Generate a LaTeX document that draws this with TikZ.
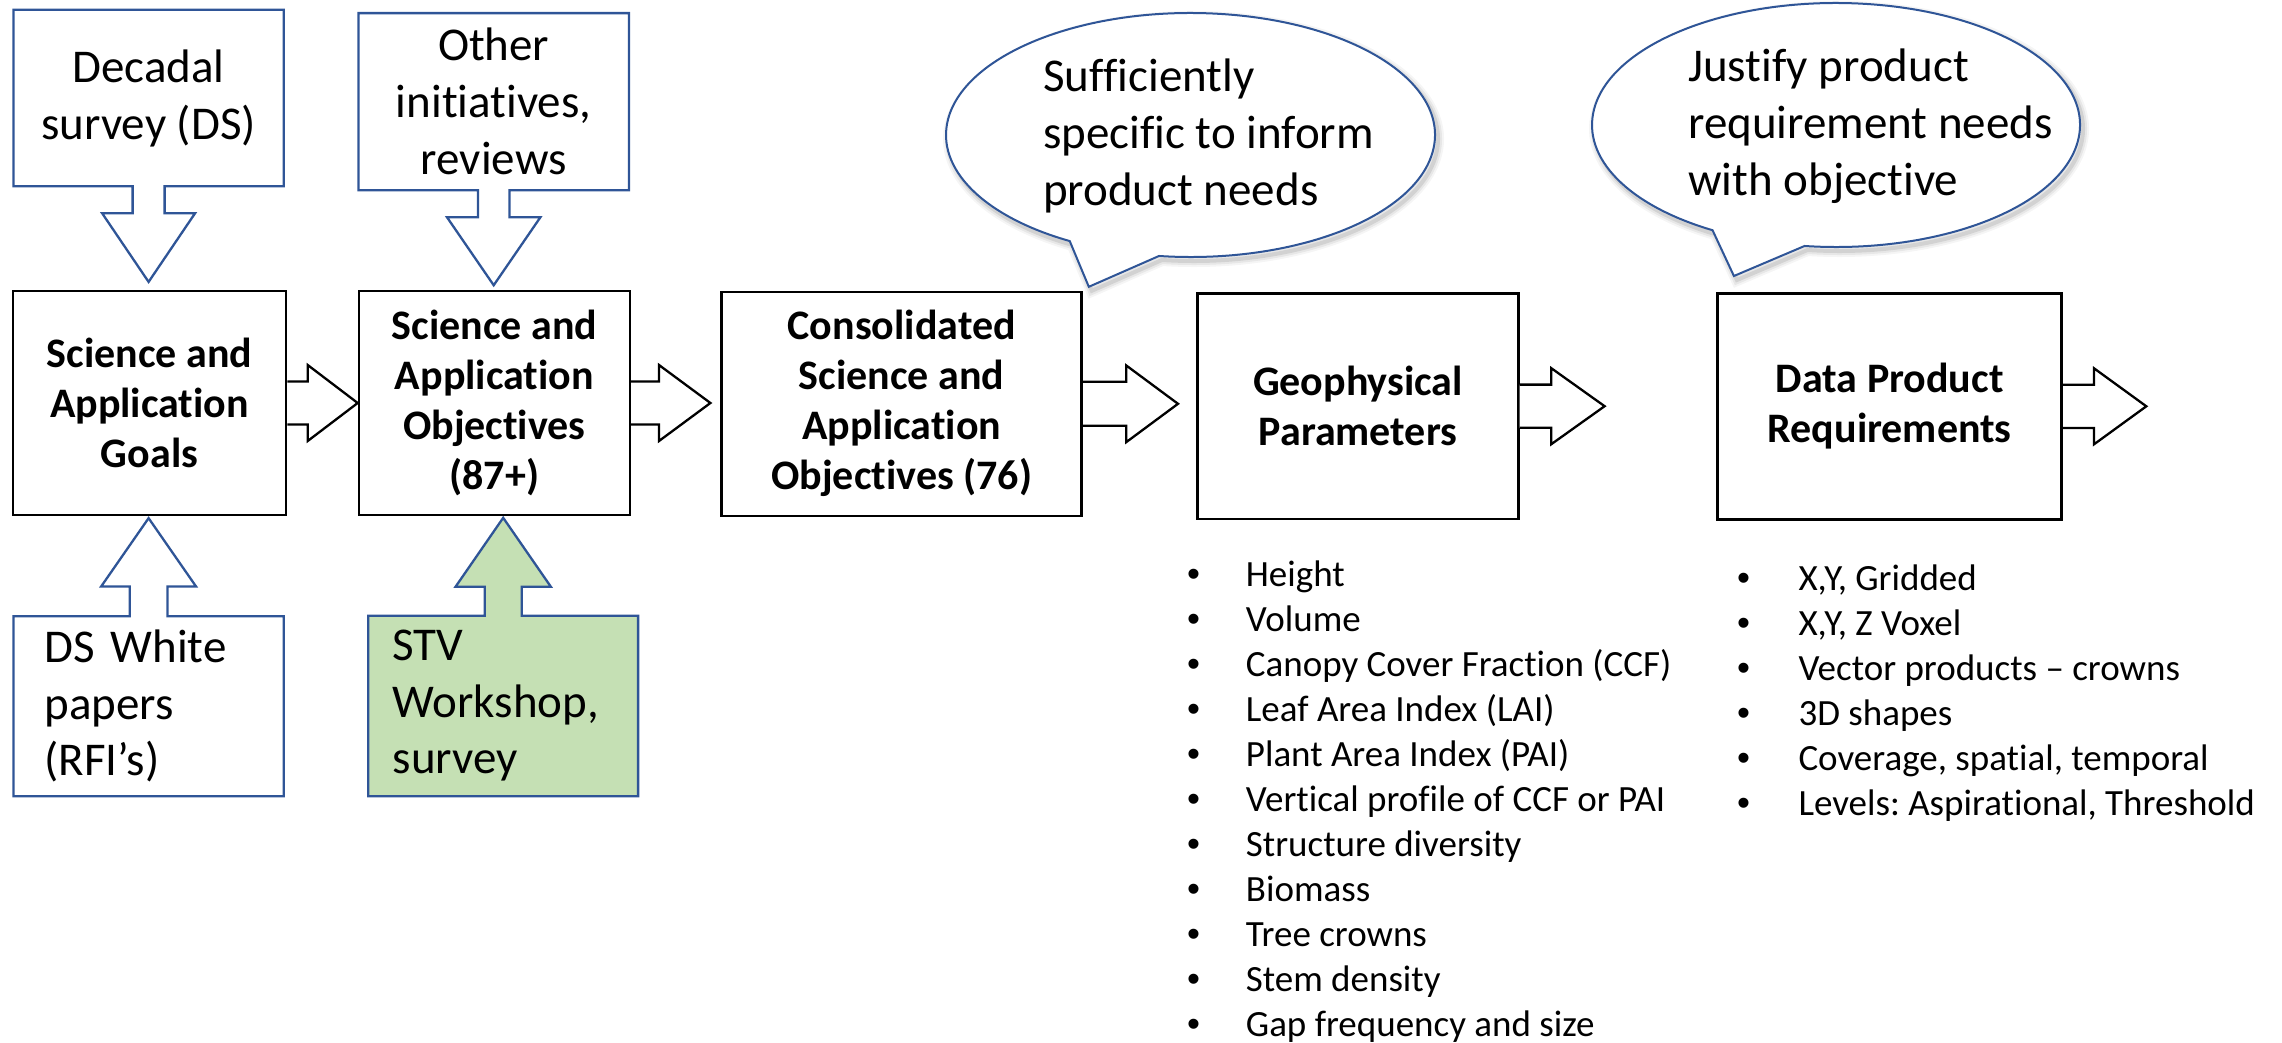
\documentclass[tikz,border=0pt]{standalone}
\usepackage{fontspec}
\setmainfont{Carlito}[Ligatures={NoCommon,NoRare}]
\newfontfamily\arialf{Liberation Sans}
\usetikzlibrary{calc,backgrounds}
\definecolor{pblue}{RGB}{47,85,151}
\definecolor{pgreen}{RGB}{197,224,180}
\newcommand\geobul{\makebox[58.9pt][l]{\arialf •}}
\newcommand\dpbul{\makebox[61.5pt][l]{\arialf •}}
\newcommand\bubblepathA{(1190.5,-135) ++(262.6:244.5pt and 122pt) arc[start angle=262.6, end angle=600.4, x radius=244.5pt, y radius=122pt] -- (1088.8,-286.8) -- cycle}
\newcommand\bubblepathB{(1836,-125) ++(262.6:244pt and 122pt) arc[start angle=262.6, end angle=599.6, x radius=244pt, y radius=122pt] -- (1733.9,-276) -- cycle}
\frenchspacing
\begin{document}
\begin{tikzpicture}[x=1pt,y=1pt,
  box/.style={draw=black, line width=2.6pt, inner sep=0pt, align=center, font=\fontsize{42}{50}\selectfont\bfseries},
  blockarrow/.style={draw=black, line width=2.3pt, line join=miter, fill=white},
  callout/.style={draw=pblue, line width=2.3pt, line join=miter},
  ctext/.style={inner sep=0pt, align=center, font=\fontsize{47}{57}\selectfont},
  ltext/.style={inner sep=0pt, align=left, font=\fontsize{47}{56.5}\selectfont},
  bubble/.style={draw=pblue, line width=2pt, fill=white, line join=miter},
  plain/.style={anchor=base west, inner sep=0pt}]

\useasboundingbox (0,0) rectangle (2282,-1043);

% speech bubbles with soft shadow
\foreach \lw/\op in {12/0.04, 8/0.06, 4/0.09}{
  \draw[line width=\lw pt, black, opacity=\op, shift={(3,-4)}] \bubblepathA;
  \draw[line width=\lw pt, black, opacity=\op, shift={(3,-4)}] \bubblepathB;
}
\draw[bubble] \bubblepathA;
\draw[bubble] \bubblepathB;

\node[plain, font=\fontsize{47}{56.7}\selectfont] (b1txt) at (1043,-91.7)
  {\begin{tabular}[t]{@{}l@{}}Sufficiently\\specific to inform\\product needs\end{tabular}};
\node[plain, font=\fontsize{47}{56.7}\selectfont] (b2txt) at (1688,-81.7)
  {\begin{tabular}[t]{@{}l@{}}Justify product\\requirement needs\\with objective\end{tabular}};

% main boxes
\node[box, minimum width=273pt, minimum height=224pt] (goals) at (149.5,-403) {Science and\\Application\\Goals};
\node[box, minimum width=271pt, minimum height=224pt] (obj) at (494.4,-403) {Science and\\Application\\Objectives\\(87+)};
\node[box, minimum width=360pt, minimum height=224pt] (cons) at (901.7,-403.8) {Consolidated\\Science and\\Application\\Objectives (76)};
\node[box, minimum width=320.6pt, minimum height=225.7pt] (geo) at (1358,-406.2) {Geophysical\\Parameters};
\node[box, minimum width=344pt, minimum height=226pt] (dp) at (1889.7,-406.3) {Data Product\\Requirements};

% source boxes (text), outlines drawn on background
\node[ctext, minimum width=270pt, minimum height=176pt] (ds) at (148.6,-98) {Decadal\\survey (DS)};
\node[ctext, minimum width=270pt, minimum height=176.7pt] (oth) at (493.7,-101.7) {Other\\initiatives,\\reviews};
\node[ltext, text width=208pt, inner xsep=31pt, minimum height=179.7pt] (dsw) at (148.6,-706.2) {DS White\\papers\\(RFI’s)};
\node[ltext, text width=221pt, inner xsep=24.2pt, minimum height=180pt] (stv) at (503.2,-706) {STV\\Workshop,\\survey};

\begin{scope}[on background layer]
  \draw[callout, fill=white] (ds.north west) -- (ds.north east) -- (ds.south east)
    -- ($(ds.south)+(16,0)$) -- ++(0,-27) -- ++(30.5,0) -- ++(-46.5,-68.7) -- ++(-46.5,68.7) -- ++(30.5,0) -- ++(0,27)
    -- (ds.south west) -- cycle;
  \draw[callout, fill=white] (oth.north west) -- (oth.north east) -- (oth.south east)
    -- ($(oth.south)+(15.8,0)$) -- ++(0,-27) -- ++(30.9,0) -- ++(-46.7,-68) -- ++(-46.7,68) -- ++(30.9,0) -- ++(0,27)
    -- (oth.south west) -- cycle;
  \draw[callout, fill=white] (dsw.south west) -- (dsw.north west)
    -- ($(dsw.north)+(-18.9,0)$) -- ++(0,29.6) -- ++(-28.6,0) -- ++(47.5,68.4) -- ++(47.5,-68.4) -- ++(-28.6,0) -- ++(0,-29.6)
    -- (dsw.north east) -- (dsw.south east) -- cycle;
  \draw[callout, fill=pgreen] (stv.south west) -- (stv.north west)
    -- ($(stv.north)+(-18.5,0)$) -- ++(0,29) -- ++(-29.2,0) -- ++(47.7,69) -- ++(47.7,-69) -- ++(-29.2,0) -- ++(0,-29)
    -- (stv.north east) -- (stv.south east) -- cycle;
\end{scope}

% block arrows between main boxes
\draw[blockarrow] (goals.east) ++(0,21.5) -- ++(20.4,0) -- ++(0,16.5) -- ++(50,-38) -- ++(-50,-38) -- ++(0,16.5) -- ++(-20.4,0);
\draw[blockarrow] (obj.east) ++(0,21.5) -- ++(27.8,0) -- ++(0,16.5) -- ++(51.4,-38) -- ++(-51.4,-38) -- ++(0,16.5) -- ++(-27.8,0);
\draw[blockarrow] (cons.east) ++(0,22) -- ++(43.3,0) -- ++(0,16.3) -- ++(51.7,-38.3) -- ++(-51.7,-38.3) -- ++(0,16.3) -- ++(-43.3,0);
\draw[blockarrow] (geo.east) ++(0,21.6) -- ++(31.7,0) -- ++(0,16.4) -- ++(53.3,-38) -- ++(-53.3,-38) -- ++(0,16.4) -- ++(-31.7,0);
\draw[blockarrow] (dp.east) ++(0,21.6) -- ++(31,0) -- ++(0,16.4) -- ++(52.3,-38) -- ++(-52.3,-38) -- ++(0,16.4) -- ++(-31,0);

% bullet lists
\node[plain, font=\fontsize{37}{45}\selectfont] (geolist) at (1186.8,-586.7)
  {\begin{tabular}[t]{@{}l@{}}
   \geobul Height\\
   \geobul Volume\\
   \geobul Canopy Cover Fraction (CCF)\\
   \geobul Leaf Area Index (LAI)\\
   \geobul Plant Area Index (PAI)\\
   \geobul Vertical profile of CCF or PAI\\
   \geobul Structure diversity\\
   \geobul Biomass\\
   \geobul Tree crowns\\
   \geobul Stem density\\
   \geobul Gap frequency and size
  \end{tabular}};
\node[plain, font=\fontsize{37}{45}\selectfont] (dplist) at (1736.8,-590)
  {\begin{tabular}[t]{@{}l@{}}
   \dpbul X,Y, Gridded\\
   \dpbul X,Y, Z Voxel\\
   \dpbul Vector products – crowns\\
   \dpbul 3D shapes\\
   \dpbul Coverage, spatial, temporal\\
   \dpbul Levels: Aspirational, Threshold
  \end{tabular}};
\end{tikzpicture}
\end{document}
